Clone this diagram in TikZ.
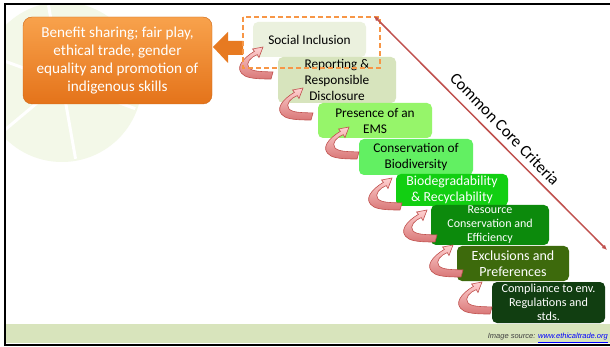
\documentclass[tikz,border=0pt]{standalone}
\usepackage{fontspec}
\setmainfont{Carlito}
\newfontfamily\arialfont{Liberation Sans}
\usetikzlibrary{arrows.meta}
\definecolor{orgA}{HTML}{F8A24C}
\definecolor{orgB}{HTML}{E4731A}
\definecolor{orgLine}{HTML}{F79646}
\definecolor{critRed}{HTML}{C0504D}
\definecolor{cSocial}{HTML}{EBF1DE}
\definecolor{cReport}{HTML}{D7E4BD}
\definecolor{cPresence}{HTML}{96F56A}
\definecolor{cBiodiv}{HTML}{62F062}
\definecolor{cBiodeg}{HTML}{12CF12}
\definecolor{cResource}{HTML}{0C8A0C}
\definecolor{cExcl}{HTML}{3D6A0C}
\definecolor{cComp}{HTML}{113E11}
\definecolor{strip}{HTML}{D8E4BC}
\definecolor{wm}{HTML}{F3F8E8}
\newcommand\curlyarrow[1]{%
  \begin{scope}[shift={#1}]
    \draw[curly] (0,0) -- (-10.5,2) -- (-8.5,4.3)
      .. controls (-20,11) and (-30,22) .. (-18,29)
      .. controls (-12,32) and (0,32) .. (8,32) -- (10,25)
      .. controls (0,24.5) and (-10,25) .. (-14,21)
      .. controls (-18,16) and (-12,10) .. (-5.8,7.6)
      -- (-4,10.5) -- cycle;
  \end{scope}}
\begin{document}
\begin{tikzpicture}[x=1pt,y=-1pt,
  crit/.style={rounded corners=5pt, align=center, inner sep=0pt,
    font=\fontsize{13.3}{16}\selectfont},
  curly/.style={top color=red!18!white, bottom color=red!45!white!85!black,
    draw=critRed, line width=0.6pt},
]
\useasboundingbox (0,0) rectangle (610,347);
\fill[white] (0,0) rectangle (610,347);
% watermark
\begin{scope}
  \clip (6,5) rectangle (610,324);
  \fill[wm] (62,82) circle (80);
  \foreach \a in {20,80,140,200,260,320}
    \draw[white, line width=3pt] (62,82) -- ++(\a:78);
\end{scope}
% frame
\fill[strip] (6,324) rectangle (610,343);
\draw[black, line width=2.5pt] (610,4) -- (5,4) -- (5,345) -- (610,345);
% orange box
\node[rounded corners=9pt, top color=orgA, bottom color=orgB, draw=orgB!90!black,
  line width=0.4pt, minimum width=189pt, minimum height=87pt, inner sep=0pt,
  align=center, text=white, font=\fontsize{15.2}{18}\selectfont]
  (benefit) at (117.5,60.5)
  {Benefit sharing; fair play,\\ ethical trade, gender\\ equality and promotion of\\ indigenous skills};
% criteria boxes
\node[crit, fill=cSocial, minimum width=113pt, minimum height=35pt] (social) at (309.5,39.5) {Social Inclusion};
\node[crit, fill=cReport, minimum width=118pt, minimum height=46pt] (report) at (337,80) {Reporting \&\\ Responsible\\ Disclosure};
\node[crit, fill=cPresence, minimum width=114pt, minimum height=35pt] (presence) at (375,120.5) {Presence of an\\ EMS};
\node[crit, fill=cBiodiv, minimum width=114pt, minimum height=36pt] (biodiv) at (416,157) {Conservation of\\ Biodiversity};
\node[crit, fill=cBiodeg, text=white, minimum width=112pt, minimum height=32pt, font=\fontsize{13.8}{16}\selectfont] (biodeg) at (452,190) {Biodegradability\\ \& Recyclability};
\node[crit, fill=cResource, text=white, minimum width=118pt, minimum height=40pt, font=\fontsize{12}{14}\selectfont] (resource) at (490,225) {Resource\\ Conservation and\\ Efficiency};
\node[crit, fill=cExcl, text=white, minimum width=112pt, minimum height=35pt, font=\fontsize{14}{16}\selectfont] (excl) at (513,263.5) {Exclusions and\\ Preferences};
\node[crit, fill=cComp, text=white, minimum width=113pt, minimum height=41pt, font=\fontsize{12.2}{14}\selectfont] (comp) at (548.5,302.5) {Compliance to env.\\ Regulations and\\ stds.};
% orange arrow
\fill[orgB!85!orgA] (213,47) -- (228,32) -- (228,41) -- (243,41) -- (243,55) -- (228,55) -- (228,63) -- cycle;
% curly arrows
\curlyarrow{(263,47)}
\curlyarrow{(303,88)}
\curlyarrow{(349,127)}
\curlyarrow{(392,178)}
\curlyarrow{(427,210)}
\curlyarrow{(453,245)}
\curlyarrow{(482,282)}
% dashed highlight
\draw[orgLine, line width=1.8pt, dash pattern=on 5pt off 3pt] (243,17) rectangle (380,68);
% common core criteria arrow
\coordinate (ccTop) at (374,16);
\coordinate (ccBot) at (607,250);
\draw[critRed, line width=1.5pt, {Latex[length=5pt,width=4.5pt]}-{Latex[length=5pt,width=4.5pt]}] (ccTop) -- (ccBot);
\node[rotate=-46, font=\fontsize{16.5}{18}\selectfont] (cclabel) at (505,129) {Common Core Criteria};
% image source
\node[anchor=east, inner sep=0pt, font=\arialfont\itshape\fontsize{7.5}{9}\selectfont] (src) at (608,338)
  {\textcolor{black!75}{Image source:} \textcolor{blue}{\underline{www.ethicaltrade.org}}};
\end{tikzpicture}
\end{document}
